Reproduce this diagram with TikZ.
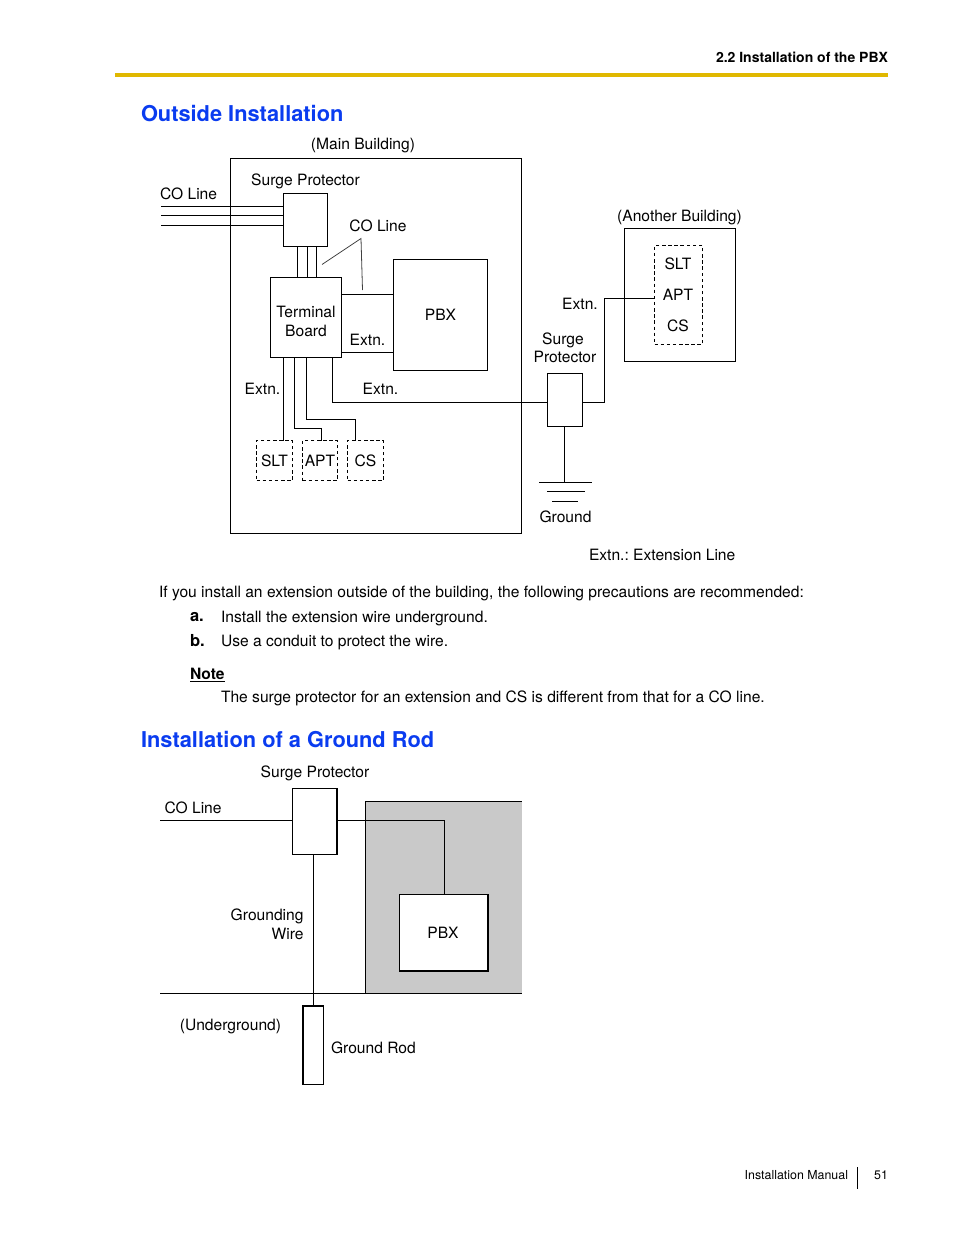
\documentclass[tikz,border=0pt]{standalone}
\usepackage{fontspec}
\setmainfont{TeX Gyre Heros}
\usetikzlibrary{calc}
\definecolor{hdr}{HTML}{E0B800}
\definecolor{ttl}{HTML}{0A3CF0}
\definecolor{greybg}{HTML}{C9C9C9}
\newcommand\rbox[7][]{\node[boxbase,#1,minimum width={(#5-#3)*.75pt},minimum height={(#6-#4)*.75pt}] (#2) at ({(#3+#5)/2},{(#4+#6)/2}) {#7};}
\tikzset{
  x=.75pt,y=-.75pt,
  boxbase/.style={draw=black,line width=.8pt,inner sep=0pt,outer sep=0pt,align=center,font=\fontsize{11.7pt}{14pt}\selectfont},
  dashbox/.style={dash pattern=on 2.6pt off 2pt},
  wire/.style={draw=black,line width=.8pt},
  pointer/.style={draw=black!75,line width=.6pt},
  lbl/.style={inner sep=0pt,outer sep=0pt,align=center,font=\fontsize{11.7pt}{14pt}\selectfont},
  body/.style={inner sep=0pt,outer sep=0pt,anchor=west,font=\fontsize{11.7pt}{14pt}\selectfont},
  bodyb/.style={inner sep=0pt,outer sep=0pt,anchor=west,font=\fontsize{12.4pt}{14pt}\selectfont\bfseries},
  title/.style={inner sep=0pt,outer sep=0pt,anchor=west,text=ttl,font=\fontsize{16.35pt}{20pt}\selectfont\bfseries},
}
\begin{document}
\frenchspacing
\begin{tikzpicture}
\path[use as bounding box,fill=white] (0,0) rectangle (954,1235);
% header
\node[body,anchor=east,font=\fontsize{10.5pt}{12pt}\selectfont\bfseries] (hd) at (888,57.5) {2.2 Installation of the PBX};
\fill[hdr] (115,73) rectangle (888,77);
\node[title] (t1) at (141,113.5) {Outside Installation};

% outside installation
\rbox{main}{230.5}{158.5}{521.5}{533.5}{}
\rbox[fill=white]{sp}{283.5}{193.5}{327.5}{246.5}{}
\rbox{tb}{270.5}{277.5}{341.5}{357.5}{}
\rbox{pbx}{393.5}{259.5}{487.5}{370.5}{PBX}
\rbox[dashbox]{slt}{256.5}{440.5}{292.5}{480.5}{SLT}
\rbox[dashbox]{apt}{302.5}{440.5}{337.5}{480.5}{APT}
\rbox[dashbox]{cs}{347.5}{440.5}{383.5}{480.5}{CS}
\rbox{sp2}{547.5}{373.5}{582.5}{426.5}{}
\rbox{other}{624.5}{228.5}{735.5}{361.5}{}
\rbox[dashbox,align=center]{group}{654.5}{245.5}{702.5}{344.5}{}

\coordinate (co1) at (161,206.5);
\coordinate (co2) at (161,215.5);
\coordinate (co3) at (161,225.5);
\draw[wire] (co1) -- (co1 -| sp.west);
\draw[wire] (co2) -- (co2 -| sp.west);
\draw[wire] (co3) -- (co3 -| sp.west);
\foreach \cx in {297.5,307.5,316.5}{\draw[wire] (\cx,0 |- sp.south) -- (\cx,0 |- tb.north);}
\draw[wire] (tb.east |- 0,294.5) -- (pbx.west |- 0,294.5);
\draw[wire] (tb.east |- 0,352.5) -- (pbx.west |- 0,352.5);
\coordinate (ptr) at (361,238.5);
\coordinate (ptra) at (322,264.5);
\coordinate (ptrb) at (362.5,290);
\draw[pointer] (ptra) -- (ptr) -- (ptrb);
\draw[wire] (283.5,0 |- tb.south) -- (283.5,0 |- slt.north);
\draw[wire] (294.5,0 |- tb.south) |- (321.5,428.5) -- (321.5,0 |- apt.north);
\draw[wire] (306.5,0 |- tb.south) |- (355.5,419.5) -- (355.5,0 |- cs.north);
\draw[wire] (332.5,0 |- tb.south) |- (sp2.west |- 0,402.5);
\draw[wire] (sp2.east |- 0,402.5) -| (604.5,298.5) -- (group.west |- 0,298.5);
\coordinate (g1) at (564.5,482.5);
\draw[wire] (564.5,0 |- sp2.south) -- (g1);
\coordinate (g1a) at (539,482.5);\coordinate (g1b) at (592,482.5);
\coordinate (g2a) at (547,491.5);\coordinate (g2b) at (584.5,491.5);
\coordinate (g3a) at (552,501.5);\coordinate (g3b) at (578,501.5);
\draw[wire] (g1a) -- (g1b);
\draw[wire] (g2a) -- (g2b);
\draw[wire] (g3a) -- (g3b);

\node[lbl] (lmain) at (363,146) {(Main Building)};
\node[lbl] (lsp) at (305.5,181.5) {Surge Protector};
\node[lbl,anchor=west] (lco) at (160,194) {CO Line};
\node[lbl] (lco2) at (378,226) {CO Line};
\node[lbl] (lab) at (679.5,218) {(Another Building)};
\node[lbl,anchor=base] (ltba) at (306,317) {Terminal};
\node[lbl,anchor=base] (ltbb) at (306,336) {Board};
\node[lbl] (lx1) at (367.5,340) {Extn.};
\node[lbl] (lx2) at (262.5,389) {Extn.};
\node[lbl] (lx3) at (380.5,389) {Extn.};
\node[lbl] (lx4) at (580,304) {Extn.};
\node[lbl,anchor=base] (lsa) at (563,344) {Surge};
\node[lbl,anchor=base] (lsb) at (565,362) {Protector};
\node[lbl] (lg) at (565.5,517) {Ground};
\node[lbl] (ls1) at (678,264) {SLT};
\node[lbl] (ls2) at (678,295) {APT};
\node[lbl] (ls3) at (678,326) {CS};
\node[lbl,anchor=west] (lext) at (589,555) {Extn.: Extension Line};

% text
\node[body] (p0) at (159,593) {If you install an extension outside of the building, the following precautions are recommended:};
\node[bodyb] (pa) at (190,617) {a.};
\node[body] (pa2) at (221,619) {Install the extension wire underground.};
\node[bodyb] (pb) at (190,641) {b.};
\node[body] (pb2) at (221,643) {Use a conduit to protect the wire.};
\node[bodyb,font=\fontsize{11.7pt}{14pt}\selectfont\bfseries] (pn) at (190,675) {\underline{Note}};
\node[body] (pn2) at (221,698) {The surge protector for an extension and CS is different from that for a CO line.};
\node[title] (t2) at (141,740) {Installation of a Ground Rod};

% ground rod
\fill[greybg] (365.5,801.5) rectangle (522,993.5);
\draw[wire] (365.5,993.5) -- (365.5,801.5) -- (522,801.5);
\rbox[fill=white]{sp3}{292.5}{788.5}{337}{854.5}{}
\draw[line width=1.2pt] (sp3.north east) -- (sp3.south east);
\rbox[fill=white]{pbx2}{399.5}{894.5}{488}{971}{}
\node[lbl] (lpbx2) at (443,932.5) {PBX};
\draw[line width=1.2pt] (pbx2.north east) -- (pbx2.south east) -- (pbx2.south west);
\rbox{rod}{303}{1006}{323.5}{1084.5}{}
\draw[line width=1.3pt] (rod.south west) -- (rod.north west) -- (rod.north east);
\coordinate (cl) at (160,820.5);
\coordinate (gl) at (160,993.5);
\coordinate (gr) at (522,993.5);
\draw[wire] (cl) -- (cl -| sp3.west);
\draw[wire] (sp3.east |- cl) -| (444.5,0 |- pbx2.north);
\draw[wire] (gl) -- (gr);
\draw[wire] (313.5,0 |- sp3.south) -- (313.5,0 |- rod.north);
\node[lbl] (ls4) at (315,773.5) {Surge Protector};
\node[lbl,anchor=west] (lc4) at (164.5,808) {CO Line};
\node[lbl,anchor=east] (lgw) at (303.5,924) {\parbox{80pt}{\raggedleft Grounding\\Wire}};
\node[lbl] (lug) at (230.5,1027) {(Underground)};
\node[lbl,anchor=west] (lgr) at (331,1048) {Ground Rod};

% footer
\node[body,anchor=east,font=\fontsize{9.3pt}{11pt}\selectfont] (f1) at (848,1175) {Installation Manual};
\coordinate (fa) at (857.5,1167);\coordinate (fb) at (857.5,1189);
\draw[wire] (fa) -- (fb);
\node[body,anchor=east,font=\fontsize{9.3pt}{11pt}\selectfont] (f2) at (888,1175) {51};
\end{tikzpicture}
\end{document}
